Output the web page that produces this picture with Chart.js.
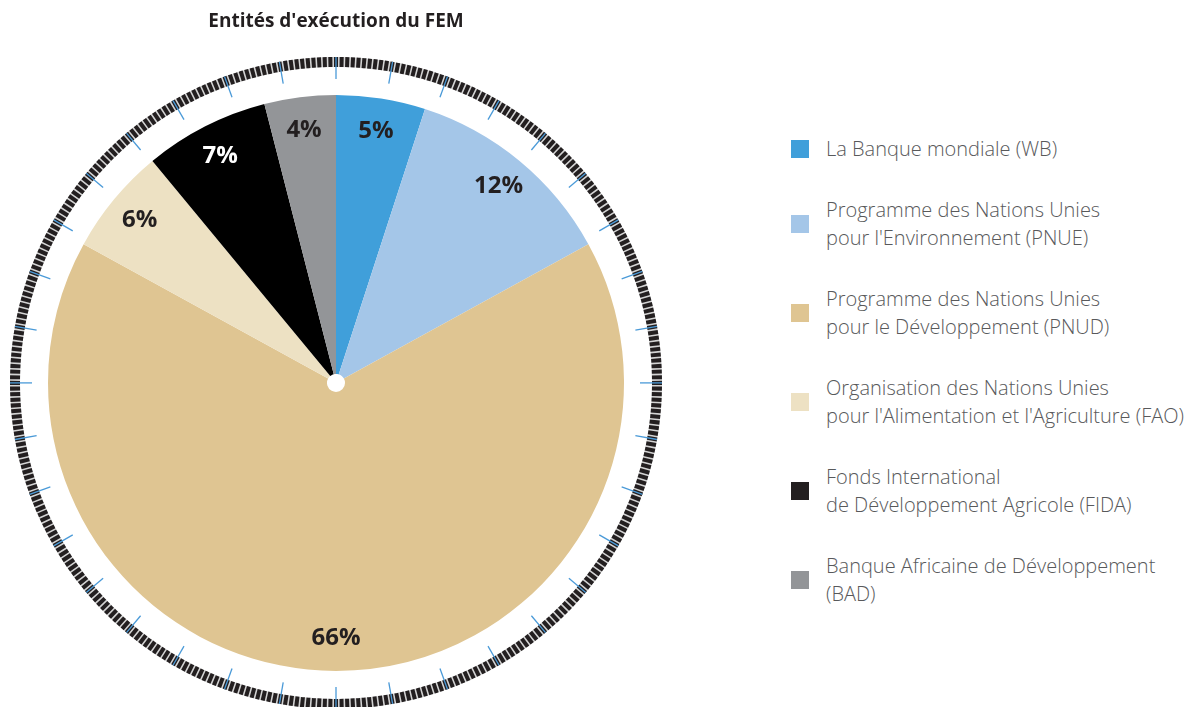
<!DOCTYPE html>
<html lang="fr">
<head>
<meta charset="utf-8">
<title>Entités d'exécution du FEM</title>
<script src="https://cdn.jsdelivr.net/npm/chart.js@4.4.1/dist/chart.umd.min.js"></script>
<style>
  html, body { margin: 0; padding: 0; background: #fff; }
  body { width: 1195px; height: 707px; position: relative; overflow: hidden; }
  #wrap { position: absolute; left: 0; top: 0; width: 672px; height: 707px; }
  #legende { position: absolute; left: 791px; top: 135px; font-family: 'Open Sans', sans-serif; font-weight: 300; font-size: 20px; color: #58595b; }
  .leg-item { display: flex; align-items: center; margin-bottom: 33px; line-height: 28px; }
  .leg-box { width: 18px; height: 18px; flex: none; margin-right: 17px; }
</style>
</head>
<body>
<div id="wrap"><canvas id="chart-fem"></canvas></div>
<div id="legende"></div>

<script>
// ── DONNÉES ────────────────────────────────────
const ENTITES = [
  ['La Banque mondiale (WB)'],
  ['Programme des Nations Unies', "pour l'Environnement (PNUE)"],
  ['Programme des Nations Unies', 'pour le Développement (PNUD)'],
  ['Organisation des Nations Unies', "pour l'Alimentation et l'Agriculture (FAO)"],
  ['Fonds International', 'de Développement Agricole (FIDA)'],
  ['Banque Africaine de Développement', '(BAD)']
];
const POURCENTS = [5, 12, 66, 6, 7, 4];
const COULEURS  = ['#409fda', '#a4c6e8', '#dfc592', '#ede1c3', '#000000', '#939598'];
const LEG_COULEURS = ['#409fda', '#a4c6e8', '#dfc592', '#ede1c3', '#231f20', '#939598'];
const TEXTE_LABEL  = ['#231f20', '#231f20', '#231f20', '#231f20', '#ffffff', '#231f20'];

// ── LÉGENDE HTML ───────────────────────────────
document.getElementById('legende').innerHTML = ENTITES.map((lignes, i) => `
  <div class="leg-item">
    <span class="leg-box" style="background:${LEG_COULEURS[i]}"></span>
    <span>${lignes.join('<br>')}</span>
  </div>
`).join('');

// ── CADRAN (anneau gradué autour du camembert) ──
const cadran = {
  id: 'cadran',
  beforeDatasetsDraw(chart) {
    const arc = chart.getDatasetMeta(0).data[0];
    if (!arc) return;
    const { x, y, outerRadius: R } = arc;
    const ctx = chart.ctx;
    const rIn = R + 28, rOut = R + 38;
    ctx.save();
    // fond gris clair
    ctx.beginPath();
    ctx.arc(x, y, (rIn + rOut) / 2, 0, Math.PI * 2);
    ctx.strokeStyle = '#d4d4d4';
    ctx.lineWidth = rOut - rIn;
    ctx.stroke();
    // 360 graduations sombres
    ctx.fillStyle = '#231f20';
    for (let d = 0; d < 360; d++) {
      const a0 = (d - 90 - 0.36) * Math.PI / 180;
      const a1 = (d - 90 + 0.36) * Math.PI / 180;
      ctx.beginPath();
      ctx.arc(x, y, rOut, a0, a1);
      ctx.arc(x, y, rIn, a1, a0, true);
      ctx.closePath();
      ctx.fill();
    }
    // repères bleus tous les 10°
    ctx.strokeStyle = '#4a9ad8';
    ctx.lineWidth = 1.3;
    for (let d = 0; d < 360; d += 10) {
      const a = (d - 90) * Math.PI / 180;
      ctx.beginPath();
      ctx.moveTo(x + Math.cos(a) * (R + 16), y + Math.sin(a) * (R + 16));
      ctx.lineTo(x + Math.cos(a) * rOut, y + Math.sin(a) * rOut);
      ctx.stroke();
    }
    ctx.restore();
  },
  afterDatasetsDraw(chart) {
    const ctx = chart.ctx;
    ctx.save();
    ctx.font = "700 24px 'Open Sans', sans-serif";
    ctx.textAlign = 'center';
    ctx.textBaseline = 'middle';
    chart.getDatasetMeta(0).data.forEach((arc, i) => {
      const mid = (arc.startAngle + arc.endAngle) / 2;
      const r = arc.outerRadius * 0.885;
      ctx.fillStyle = TEXTE_LABEL[i];
      ctx.fillText(POURCENTS[i] + '%', arc.x + Math.cos(mid) * r, arc.y + Math.sin(mid) * r);
    });
    ctx.restore();
  }
};

// ── GRAPHIQUE ──────────────────────────────────
new Chart(document.getElementById('chart-fem'), {
  type: 'doughnut',
  data: {
    labels: ENTITES.map(l => l.join(' ')),
    datasets: [{
      data: POURCENTS,
      backgroundColor: COULEURS,
      borderWidth: 0,
      hoverOffset: 0
    }]
  },
  options: {
    responsive: true,
    maintainAspectRatio: false,
    animation: false,
    cutout: 9,
    layout: { padding: { left: 48, right: 48, top: 0, bottom: 0 } },
    plugins: {
      legend: { display: false },
      tooltip: { enabled: false },
      title: {
        display: true,
        text: "Entités d'exécution du FEM",
        color: '#231f20',
        font: { family: "'Open Sans', sans-serif", size: 19, weight: '700' },
        padding: { top: 10, bottom: 26 }
      }
    }
  },
  plugins: [cadran]
});
</script>
</body>
</html>
